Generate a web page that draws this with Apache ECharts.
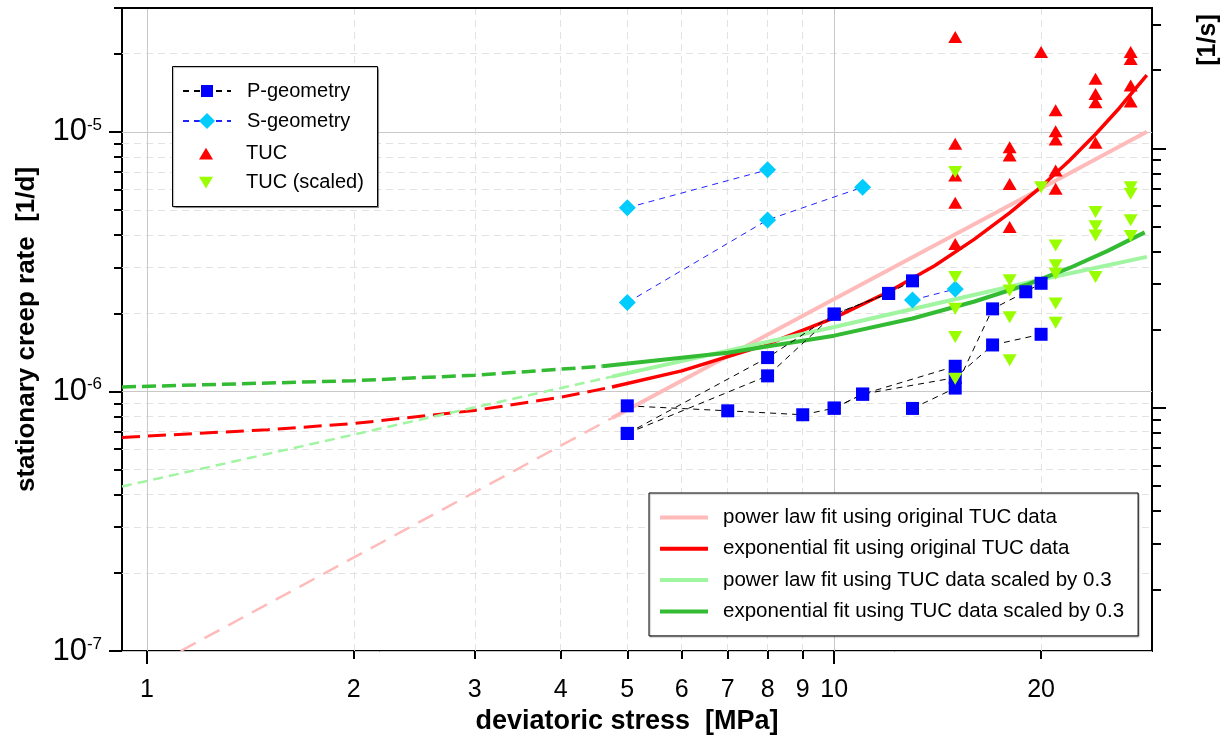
<!DOCTYPE html>
<html>
<head>
<meta charset="utf-8">
<script src="https://cdn.jsdelivr.net/npm/echarts@6/dist/echarts.min.js"></script>
<style>
html, body { margin: 0; padding: 0; background: #fff; }
#chart { width: 1224px; height: 740px; }
</style>
</head>
<body>
<div id="chart"></div>
<script>
// ---- data ----
var xMajorTicks = [1, 10];
var xMinorTicks = [2, 3, 4, 5, 6, 7, 8, 9, 20];
var xTickLabels = [1, 2, 3, 4, 5, 6, 7, 8, 9, 10, 20];

var yMajorTicks = [1e-7, 1e-6, 1e-5];
var yTickExps = ['-7', '-6', '-5'];
var yMinorTicks = [2e-7, 3e-7, 4e-7, 5e-7, 6e-7, 7e-7, 8e-7, 9e-7,
                   2e-6, 3e-6, 4e-6, 5e-6, 6e-6, 7e-6, 8e-6, 9e-6,
                   2e-5, 3e-5];
// right axis in 1/s
var rMajorTicks = [1e-11, 1e-10];
var rMinorTicks = [2e-12, 3e-12, 4e-12, 5e-12, 6e-12, 7e-12, 8e-12, 9e-12,
                   2e-11, 3e-11, 4e-11, 5e-11, 6e-11, 7e-11, 8e-11, 9e-11,
                   2e-10, 3e-10];

// P-geometry test chains [stress MPa, rate 1/d]
var pChain1 = [[5, 0.88e-6], [7, 0.842e-6], [9, 0.813e-6], [10, 0.862e-6], [11, 0.976e-6], [15, 1.25e-6]];
var pChain2 = [[10, 0.862e-6], [11, 0.976e-6], [15, 1.13e-6], [17, 1.51e-6], [20, 1.66e-6]];
var pChain3 = [[13, 0.86e-6], [15, 1.03e-6], [17, 2.08e-6], [19, 2.42e-6], [20, 2.61e-6]];
var pChain4 = [[5, 0.689e-6], [8, 1.35e-6], [10, 1.985e-6], [12, 2.385e-6], [13, 2.667e-6]];
var pChain5 = [[5, 0.689e-6], [8, 1.148e-6], [10, 1.985e-6], [12, 2.385e-6]];

// S-geometry chains
var sChain1 = [[5, 5.1e-6], [8, 7.14e-6]];
var sChain2 = [[5, 2.2e-6], [8, 4.58e-6], [11, 6.12e-6]];
var sChain3 = [[13, 2.25e-6], [15, 2.48e-6]];

// TUC data
var tucData = [
  [15, 2.32e-5], [15, 8.99e-6], [15, 6.79e-6], [15, 5.33e-6], [15, 3.70e-6],
  [18, 8.73e-6], [18, 8.10e-6], [18, 6.30e-6], [18, 4.30e-6],
  [20, 2.03e-5],
  [21, 1.21e-5], [21, 1.006e-5], [21, 9.34e-6], [21, 7.10e-6], [21, 6.03e-6],
  [24, 1.60e-5], [24, 1.40e-5], [24, 1.30e-5], [24, 9.07e-6],
  [27, 2.03e-5], [27, 1.91e-5], [27, 1.51e-5], [27, 1.31e-5]
];
var tucScaled = [
  [15, 7.00e-6], [15, 2.76e-6], [15, 2.08e-6], [15, 1.62e-6], [15, 1.12e-6],
  [18, 2.68e-6], [18, 2.45e-6], [18, 1.93e-6], [18, 1.32e-6],
  [20, 6.12e-6],
  [21, 3.65e-6], [21, 3.06e-6], [21, 2.84e-6], [21, 2.18e-6], [21, 1.84e-6],
  [24, 4.91e-6], [24, 4.33e-6], [24, 3.99e-6], [24, 2.76e-6],
  [27, 6.12e-6], [27, 5.77e-6], [27, 4.56e-6], [27, 3.97e-6]
];

// fit curves (dashed = extrapolated part)
var powOrigDash = [[1.12, 1.0e-7], [4.75, 0.79e-6]];
var powOrig = [[4.75, 0.79e-6], [10, 2.27e-6], [20, 6.05e-6], [28.5, 1.0e-5]];
var expOrigDash = [[0.92, 0.665e-6], [1.5, 0.712e-6], [2, 0.752e-6], [3, 0.845e-6], [4, 0.95e-6], [4.75, 1.04e-6]];
var expOrig = [[4.75, 1.04e-6], [6, 1.20e-6], [8, 1.52e-6], [10, 1.92e-6], [12, 2.42e-6], [14, 3.05e-6],
               [16, 3.86e-6], [18, 4.87e-6], [20, 6.14e-6], [22, 7.76e-6], [24, 9.79e-6], [26, 1.236e-5], [28.5, 1.654e-5]];
var powScaledDash = [[0.92, 0.43e-6], [4.75, 1.14e-6]];
var powScaled = [[4.75, 1.14e-6], [10, 1.77e-6], [20, 2.70e-6], [28.5, 3.3e-6]];
var expScaledDash = [[0.92, 1.04e-6], [2, 1.10e-6], [3, 1.155e-6], [4.6, 1.25e-6]];
var expScaled = [[4.6, 1.25e-6], [7, 1.41e-6], [10, 1.64e-6], [13, 1.91e-6], [16, 2.22e-6],
                 [19, 2.57e-6], [22, 2.99e-6], [25, 3.48e-6], [28.3, 4.10e-6]];

var FONT = 'Liberation Sans, Arial, sans-serif';
var TRI_UP = 'path://M0,11L6.5,0L13,11Z';
var TRI_DOWN = 'path://M0,0L13,0L6.5,11Z';

var myChart = echarts.init(document.getElementById('chart'));

function chain(name, data, lineColor, symbol, color, size) {
  return {
    name: name, type: 'line', data: data, xAxisIndex: 0, yAxisIndex: 0,
    symbol: symbol, symbolSize: size, showSymbol: true,
    lineStyle: { color: lineColor, width: 1, type: [6, 5] },
    itemStyle: { color: color, opacity: 1 },
    z: 4
  };
}
function fit(name, data, color, width, dash) {
  return {
    name: name, type: 'line', data: data, xAxisIndex: 0, yAxisIndex: 0,
    symbol: 'none', lineStyle: { color: color, width: width, type: dash || 'solid' },
    itemStyle: { color: color }, z: 3
  };
}
function logAxisX(extra) {
  return Object.assign({
    type: 'log', min: 0.92, max: 29, gridIndex: 0, position: 'bottom',
    axisLine: { show: false }, axisLabel: { show: false }, splitLine: { show: false }
  }, extra);
}
function logAxisY(extra, scale) {
  return Object.assign({
    type: 'log', min: 1e-7 / scale, max: 3e-5 / scale, gridIndex: 0,
    axisLine: { show: false }, axisLabel: { show: false }, splitLine: { show: false }
  }, extra);
}
// one-row legend used inside the upper-left legend box
function rowLegend(name, top, left, itemWidth, itemHeight, textPad, icon) {
  var item = { name: name };
  if (icon) item.icon = icon;
  return {
    orient: 'vertical', left: left, top: top, padding: 0, itemGap: 0,
    itemWidth: itemWidth, itemHeight: itemHeight, symbolKeepAspect: true,
    textStyle: { fontSize: 20, fontFamily: FONT, color: '#000', lineHeight: 20, padding: [0, 0, 0, textPad] },
    data: [item]
  };
}

var option = {
  animation: false,
  backgroundColor: '#fff',
  grid: { left: 122, right: 72, top: 8, bottom: 88, show: true, borderColor: '#000', borderWidth: 2 },
  xAxis: [
    logAxisX({
      axisTick: { show: true, customValues: xMajorTicks, length: 13, lineStyle: { color: '#000', width: 2 } },
      axisLabel: { show: true, customValues: xTickLabels, margin: 27, fontSize: 25, color: '#000', fontFamily: FONT },
      splitLine: { show: true, lineStyle: { color: '#c8c8c8', width: 1 } },
      name: 'deviatoric stress  [MPa]', nameLocation: 'middle', nameGap: 57,
      nameTextStyle: { fontSize: 27, fontWeight: 'bold', color: '#000', fontFamily: FONT, padding: [0, 20, 0, 0] }
    }),
    logAxisX({
      axisTick: { show: true, customValues: xMinorTicks, length: 8, lineStyle: { color: '#000', width: 2 } },
      splitLine: { show: true, lineStyle: { color: '#e2e2e2', width: 1, type: [7, 5] } }
    }),
    logAxisX({
      position: 'top', axisTick: { show: false },
      axisLine: { show: true, lineStyle: { color: '#000', width: 2 } }
    })
  ],
  yAxis: [
    logAxisY({
      position: 'left',
      axisTick: { show: true, customValues: yMajorTicks, length: 13, lineStyle: { color: '#000', width: 2 } },
      axisLabel: {
        show: true, customValues: yMajorTicks, margin: 20, color: '#000', fontFamily: FONT,
        formatter: function (v) {
          for (var i = 0; i < yMajorTicks.length; i++) {
            if (Math.abs(Math.log10(v) - Math.log10(yMajorTicks[i])) < 1e-6) {
              return '{b|10}{sup|' + yTickExps[i] + '}';
            }
          }
          return '';
        },
        rich: {
          b: { fontSize: 31, fontFamily: FONT, color: '#000', lineHeight: 31 },
          sup: { fontSize: 17, fontFamily: FONT, color: '#000', verticalAlign: 'top' }
        }
      },
      splitLine: { show: true, lineStyle: { color: '#c8c8c8', width: 1 } },
      name: 'stationary creep rate  [1/d]', nameLocation: 'middle', nameGap: 82,
      nameTextStyle: { fontSize: 26, fontWeight: 'bold', color: '#000', fontFamily: FONT }
    }, 1),
    logAxisY({
      position: 'left',
      axisTick: { show: true, customValues: yMinorTicks, length: 8, lineStyle: { color: '#000', width: 2 } },
      splitLine: { show: true, lineStyle: { color: '#e2e2e2', width: 1, type: [7, 5] } }
    }, 1),
    logAxisY({
      position: 'right',
      axisTick: { show: true, customValues: rMajorTicks, length: 14, lineStyle: { color: '#000', width: 2 } }
    }, 86400),
    logAxisY({
      position: 'right',
      axisTick: { show: true, customValues: rMinorTicks, length: 9, lineStyle: { color: '#000', width: 2 } }
    }, 86400)
  ],
  legend: [
    rowLegend('P-geometry', 81, 182, 48, 15, 11),
    rowLegend('S-geometry', 111, 182, 48, 20, 11),
    rowLegend('TUC', 143.7, 199, 14, 12, 28),
    rowLegend('TUC (scaled)', 172.7, 199, 14, 12, 28),
    {
      orient: 'vertical', left: 649, top: 493, padding: [14, 14, 14, 11], itemGap: 10.3,
      itemWidth: 48, itemHeight: 4, borderColor: '#000', borderWidth: 1, backgroundColor: '#fff',
      shadowColor: 'rgba(0,0,0,0.3)', shadowOffsetX: 1, shadowOffsetY: 1, shadowBlur: 1,
      textStyle: { fontSize: 20.5, fontFamily: FONT, color: '#000', lineHeight: 20, padding: [0, 0, 0, 10] },
      data: [
        { name: 'power law fit using original TUC data', icon: 'rect' },
        { name: 'exponential fit using original TUC data', icon: 'rect' },
        { name: 'power law fit using TUC data scaled by 0.3', icon: 'rect' },
        { name: 'exponential fit using TUC data scaled by 0.3', icon: 'rect' }
      ]
    }
  ],
  graphic: [
    {
      type: 'rect', z: 3,
      shape: { x: 172.5, y: 66.5, width: 205, height: 140 },
      style: { fill: '#fff', stroke: '#000', lineWidth: 1, shadowColor: 'rgba(0,0,0,0.3)', shadowOffsetX: 1, shadowOffsetY: 1, shadowBlur: 1 }
    },
    {
      type: 'text', x: 1208, y: 40, rotation: Math.PI / 2,
      style: { text: '[1/s]', fontSize: 25, fontWeight: 'bold', fontFamily: FONT, fill: '#000', align: 'center', verticalAlign: 'middle' }
    }
  ],
  series: [
    fit('power law fit using original TUC data', powOrig, '#ffbaba', 4),
    fit('exponential fit using original TUC data', expOrig, '#ff0000', 3.5),
    fit('power law fit using TUC data scaled by 0.3', powScaled, '#a0f5a0', 4),
    fit('exponential fit using TUC data scaled by 0.3', expScaled, '#33bb33', 4),
    fit('pow orig extrapolated', powOrigDash, '#ffbaba', 2.5, [17, 10]),
    fit('exp orig extrapolated', expOrigDash, '#ff0000', 3, [18, 8]),
    fit('pow scaled extrapolated', powScaledDash, '#a0f5a0', 2.5, [10, 6]),
    fit('exp scaled extrapolated', expScaledDash, '#33bb33', 3.5, [14, 6]),
    chain('P-geometry', pChain1, '#000', 'rect', '#0000ff', 13),
    chain('P-geometry', pChain2, '#000', 'rect', '#0000ff', 13),
    chain('P-geometry', pChain3, '#000', 'rect', '#0000ff', 13),
    chain('P-geometry', pChain4, '#000', 'rect', '#0000ff', 13),
    chain('P-geometry', pChain5, '#000', 'rect', '#0000ff', 13),
    chain('S-geometry', sChain1, '#2020ff', 'diamond', '#00ccff', 17),
    chain('S-geometry', sChain2, '#2020ff', 'diamond', '#00ccff', 17),
    chain('S-geometry', sChain3, '#2020ff', 'diamond', '#00ccff', 17),
    {
      name: 'TUC', type: 'scatter', data: tucData, symbol: TRI_UP, symbolSize: [14, 12],
      itemStyle: { color: '#ff0000', opacity: 1 }, z: 5
    },
    {
      name: 'TUC (scaled)', type: 'scatter', data: tucScaled, symbol: TRI_DOWN, symbolSize: [14, 12],
      itemStyle: { color: '#99ff00', opacity: 1 }, z: 6
    }
  ]
};

myChart.setOption(option);
</script>
</body>
</html>
